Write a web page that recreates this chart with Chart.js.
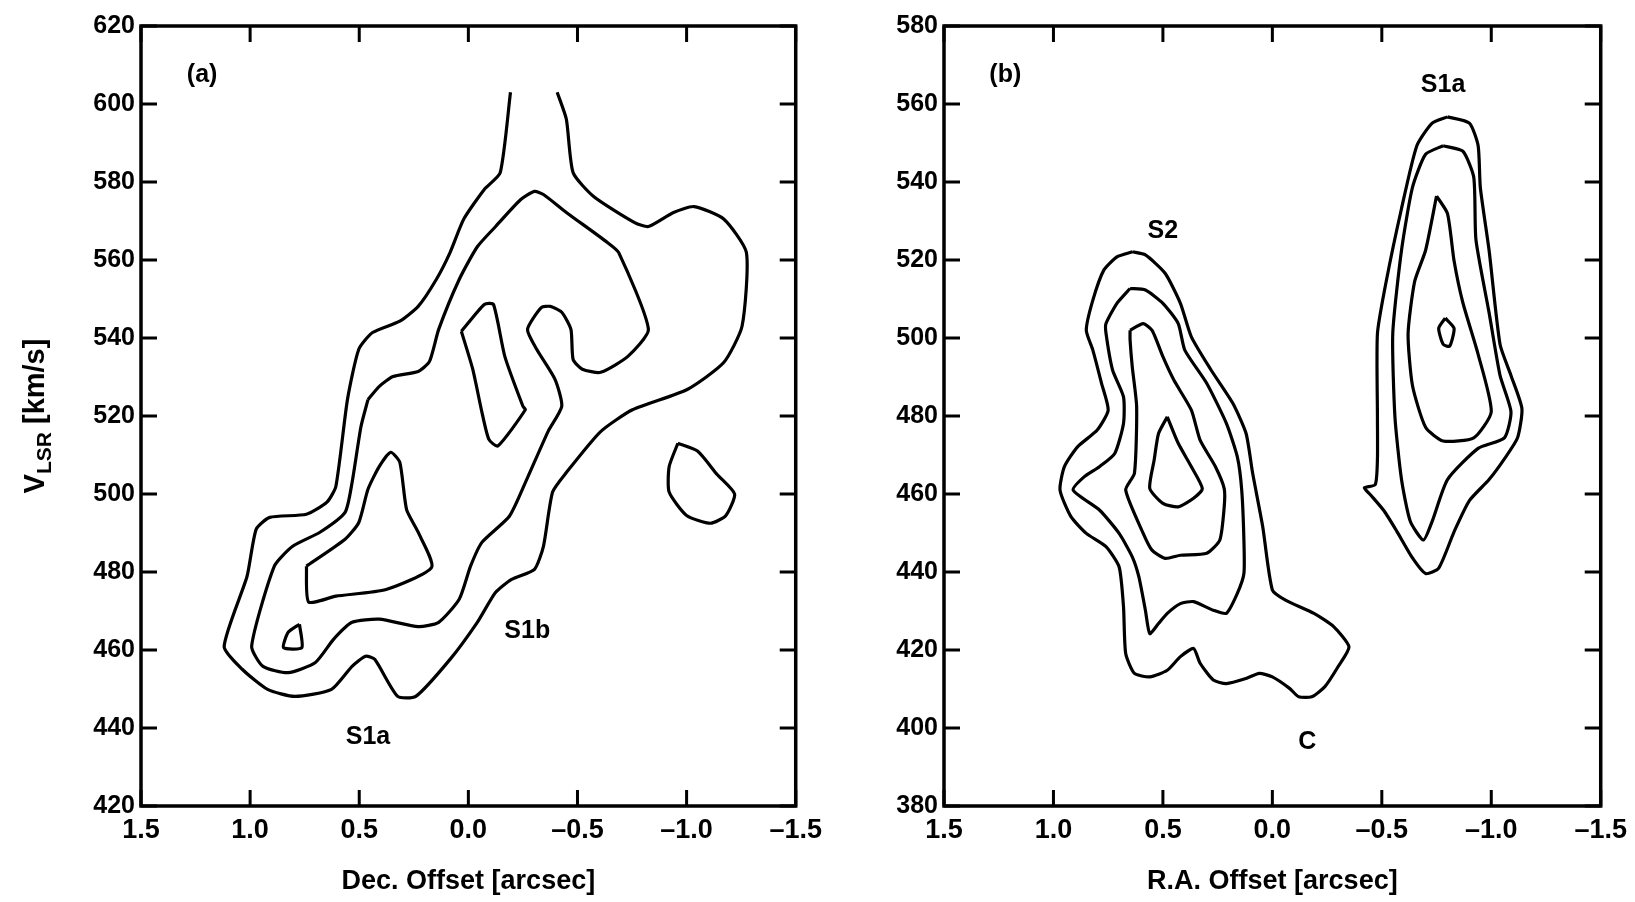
<!DOCTYPE html>
<html><head><meta charset="utf-8">
<script src="https://cdn.jsdelivr.net/npm/chart.js@4.4.0/dist/chart.umd.min.js"></script>
<style>
html,body{margin:0;padding:0;background:#fff;}
#wa{position:absolute;left:0;top:0;width:830px;height:902px;}
#wb{position:absolute;left:830px;top:0;width:805px;height:902px;}
</style></head><body>
<div id="wa"><canvas id="ca"></canvas></div>
<div id="wb"><canvas id="cb"></canvas></div>
<script>
// ---- Panel (a): Dec. offset vs V_LSR contours ----
const xTicksA = [1.5, 1.0, 0.5, 0.0, -0.5, -1.0, -1.5];
const yTicksA = [420, 440, 460, 480, 500, 520, 540, 560, 580, 600, 620];
const a_outer = [[-0.193,603.0],[-0.146,582.4],[-0.073,578.1],[0.021,570.5],[0.084,561.9],[0.147,555.0],[0.230,548.1],[0.314,544.3],[0.439,541.4],[0.502,537.1],[0.554,524.2],[0.607,502.0],[0.648,497.9],[0.742,494.8],[0.910,494.0],[0.972,491.0],[1.014,478.9],[1.119,460.9],[1.035,455.0],[0.920,449.9],[0.795,448.1],[0.627,449.9],[0.533,455.8],[0.471,458.4],[0.429,457.6],[0.324,448.1],[0.241,448.1],[0.084,457.6],[-0.041,467.1],[-0.125,474.8],[-0.198,478.1],[-0.303,480.7],[-0.344,486.6],[-0.386,500.5],[-0.449,505.5],[-0.606,516.0],[-0.752,521.6],[-1.003,526.8],[-1.170,533.7],[-1.254,543.0],[-1.274,561.9],[-1.170,570.5],[-1.034,573.7],[-0.940,572.2],[-0.825,568.6],[-0.762,569.6],[-0.574,576.3],[-0.480,582.4],[-0.449,596.1],[-0.407,603.0]];
const a_mid = [[0.460,524.2],[0.408,527.6],[0.345,530.1],[0.230,531.4],[0.178,534.0],[0.136,542.2],[0.042,555.0],[-0.041,563.4],[-0.125,568.6],[-0.240,575.5],[-0.303,577.6],[-0.344,576.8],[-0.449,572.2],[-0.637,564.5],[-0.689,561.9],[-0.825,542.2],[-0.731,535.3],[-0.606,531.2],[-0.522,532.0],[-0.480,534.5],[-0.470,542.2],[-0.428,546.6],[-0.376,548.1],[-0.334,547.8],[-0.271,542.2],[-0.313,537.1],[-0.397,529.4],[-0.428,522.5],[-0.365,516.0],[-0.261,502.9],[-0.188,494.3],[-0.062,487.6],[-0.010,481.5],[0.042,473.0],[0.136,467.1],[0.230,466.0],[0.408,467.9],[0.533,467.1],[0.617,462.8],[0.701,456.8],[0.826,454.2],[0.941,455.8],[0.993,461.0],[0.889,481.5],[0.805,486.6],[0.680,490.2],[0.565,495.3],[0.533,502.9],[0.492,517.3],[0.460,524.2]];
const a_s1a = [[0.742,481.5],[0.732,472.3],[0.607,473.8],[0.377,475.5],[0.168,481.2],[0.230,490.2],[0.283,496.0],[0.314,508.1],[0.356,510.7],[0.408,507.1],[0.460,501.2],[0.502,492.7],[0.565,488.4],[0.742,481.5]];
const a_tiny = [[0.774,466.6],[0.763,460.6],[0.847,460.6],[0.826,464.5],[0.774,466.6]];
const a_s1b = [[0.032,541.7],[-0.073,548.6],[-0.115,548.6],[-0.167,535.3],[-0.250,522.5],[-0.261,521.6],[-0.135,512.3],[-0.094,514.0],[-0.062,521.0],[-0.020,532.0],[0.032,541.7]];
const a_blob = [[-0.96,513],[-1.05,511],[-1.14,505],[-1.22,500],[-1.18,494.5],[-1.11,492.5],[-1.0,494.5],[-0.92,500.5],[-0.92,507],[-0.96,513]];
const labelsA = [["(a)",1.22,607.4],["S1b",-0.27,464.9],["S1a",0.46,437.6]];

// ---- Panel (b): R.A. offset vs V_LSR contours ----
const xTicksB = [1.5, 1.0, 0.5, 0.0, -0.5, -1.0, -1.5];
const yTicksB = [380, 400, 420, 440, 460, 480, 500, 520, 540, 560, 580];
const b_s2_1 = [[0.64,522.1],[0.58,521.3],[0.49,516.6],[0.42,508.9],[0.37,500.3],[0.28,491.8],[0.18,483.2],[0.12,475.5],[0.09,465.3],[0.044,451.6],[0.0,435.4],[-0.06,432.8],[-0.19,429.4],[-0.28,426.0],[-0.35,420.8],[-0.30,415.7],[-0.24,410.6],[-0.18,408.0],[-0.12,408.0],[-0.08,410.1],[0.0,413.1],[0.06,414.0],[0.12,412.7],[0.21,411.4],[0.27,412.3],[0.33,416.6],[0.36,420.4],[0.42,418.3],[0.48,414.8],[0.56,413.1],[0.63,414.0],[0.67,419.1],[0.68,431.1],[0.70,441.3],[0.76,446.5],[0.85,449.9],[0.92,454.2],[0.97,461.0],[0.95,467.0],[0.89,472.1],[0.80,476.4],[0.75,481.5],[0.78,488.3],[0.82,496.9],[0.85,502.0],[0.82,509.7],[0.77,517.4],[0.71,520.8],[0.64,522.1]];
const b_s2_2 = [[0.65,512.7],[0.58,512.3],[0.50,508.9],[0.43,503.7],[0.40,496.9],[0.30,488.4],[0.21,478.1],[0.16,469.5],[0.14,461.0],[0.13,448.2],[0.13,439.6],[0.16,434.5],[0.21,429.4],[0.27,430.2],[0.36,432.4],[0.42,431.9],[0.48,429.4],[0.52,426.8],[0.56,424.2],[0.58,430.2],[0.61,438.8],[0.64,443.9],[0.70,449.9],[0.79,455.9],[0.91,461.0],[0.86,464.4],[0.79,467.0],[0.72,470.4],[0.68,478.1],[0.68,484.9],[0.73,491.8],[0.76,501.2],[0.76,503.7],[0.71,508.9],[0.65,512.7]];
const b_s2_3 = [[0.65,502.0],[0.59,503.7],[0.55,502.0],[0.53,499.5],[0.50,495.2],[0.45,489.2],[0.37,481.5],[0.33,473.8],[0.26,467.0],[0.22,461.4],[0.22,456.7],[0.24,448.2],[0.30,444.8],[0.42,444.3],[0.49,443.5],[0.55,445.6],[0.59,449.9],[0.67,461.0],[0.63,465.3],[0.62,482.4],[0.64,492.6],[0.65,499.5],[0.65,502.0]];
const b_s2_4 = [[0.48,479.8],[0.43,473.0],[0.37,467.0],[0.32,461.4],[0.36,458.9],[0.43,456.7],[0.50,457.6],[0.56,461.4],[0.54,468.7],[0.52,475.5],[0.48,479.8]];
const b_s1_1 = [[-0.80,556.7],[-0.90,555.1],[-0.94,549.3],[-0.95,538.6],[-0.99,522.5],[-1.04,498.4],[-1.09,490.4],[-1.14,481.9],[-1.12,474.4],[-1.06,469],[-0.99,463.7],[-0.90,458.3],[-0.83,450.3],[-0.76,441],[-0.70,439.6],[-0.64,443.6],[-0.57,450.3],[-0.51,455.7],[-0.45,459.7],[-0.42,461.6],[-0.47,462.4],[-0.48,469],[-0.48,479.7],[-0.48,501.1],[-0.52,514.5],[-0.59,533.2],[-0.66,549.3],[-0.73,555.1],[-0.80,556.7]];
const b_s1_2 = [[-0.78,549.3],[-0.87,547.9],[-0.92,541.2],[-0.93,525.2],[-0.99,506.5],[-1.04,490.4],[-1.09,481.1],[-1.06,474.4],[-0.94,471.7],[-0.80,463.7],[-0.73,453],[-0.69,448.2],[-0.63,453],[-0.59,463.7],[-0.56,479.7],[-0.55,501.1],[-0.59,522.5],[-0.64,538.6],[-0.70,547.1],[-0.78,549.3]];
const b_s1_3 = [[-0.75,536.4],[-0.80,531.9],[-0.83,519.8],[-0.87,509.1],[-0.94,495.8],[-1.00,481.1],[-0.92,474.4],[-0.78,473.6],[-0.70,477.1],[-0.64,487.8],[-0.62,501.1],[-0.65,514.5],[-0.70,522.5],[-0.75,536.4]];
const b_s1_4 = [[-0.79,505.1],[-0.83,502.5],[-0.81,497.9],[-0.78,498.4],[-0.76,502.5],[-0.79,505.1]];
const labelsB = [["(b)",1.22,567.4],["S2",0.50,527.3],["S1a",-0.78,564.8],["C",-0.16,396.3]];

const FONT = "'Liberation Sans', Arial, sans-serif";
function ds(arr){
  return {data: arr.map(p=>({x:p[0],y:p[1]})), borderColor:'#000', borderWidth:3.2,
    pointRadius:0, showLine:true, fill:false, tension:0.2, parsing:false};
}
const framePlugin = {
  id:'frame',
  afterDraw(chart, args, opts){
    const {ctx, chartArea:ca, scales:{x,y}} = chart;
    ctx.save();
    ctx.strokeStyle='#000'; ctx.lineWidth=3.5;
    ctx.strokeRect(ca.left, ca.top, ca.right-ca.left, ca.bottom-ca.top);
    ctx.lineWidth=3;
    const L=16;
    opts.xt.forEach(v=>{const px=x.getPixelForValue(v);
      ctx.beginPath();ctx.moveTo(px,ca.bottom);ctx.lineTo(px,ca.bottom-L);
      ctx.moveTo(px,ca.top);ctx.lineTo(px,ca.top+L);ctx.stroke();});
    opts.yt.forEach(v=>{const py=y.getPixelForValue(v);
      ctx.beginPath();ctx.moveTo(ca.left,py);ctx.lineTo(ca.left+L,py);
      ctx.moveTo(ca.right,py);ctx.lineTo(ca.right-L,py);ctx.stroke();});
    ctx.fillStyle='#000'; ctx.font='bold 25px '+FONT; ctx.textAlign='center'; ctx.textBaseline='middle';
    opts.labels.forEach(l=>ctx.fillText(l[0], x.getPixelForValue(l[1]), y.getPixelForValue(l[2])));
    if(opts.ytitle){
      ctx.translate(36,(ca.top+ca.bottom)/2); ctx.rotate(-Math.PI/2);
      ctx.textAlign='left'; ctx.textBaseline='middle';
      const t1='V', t2='LSR', t3=' [km/s]';
      ctx.font='bold 29px '+FONT; const w1=ctx.measureText(t1).width;
      ctx.font='bold 21px '+FONT; const w2=ctx.measureText(t2).width;
      ctx.font='bold 29px '+FONT; const w3=ctx.measureText(t3).width;
      let s=-(w1+w2+w3)/2;
      ctx.fillText(t1,s,0); s+=w1;
      ctx.font='bold 21px '+FONT; ctx.fillText(t2,s,9); s+=w2;
      ctx.font='bold 29px '+FONT; ctx.fillText(t3,s,0);
    }
    ctx.restore();
  }
};
function make(id, sets, xt, yt, ymin, ymax, xtitle, labels, yw, padR, ytitle){
  return new Chart(document.getElementById(id), {
    type:'scatter',
    data:{datasets:sets.map(ds)},
    options:{
      responsive:true, maintainAspectRatio:false, animation:false,
      layout:{padding:{top:26,right:padR,left:0,bottom:0}},
      plugins:{legend:{display:false},tooltip:{enabled:false},
        frame:{xt:xt,yt:yt,labels:labels,ytitle:ytitle}},
      scales:{
        x:{type:'linear',min:-1.5,max:1.5,reverse:true,
          afterBuildTicks:s=>{s.ticks=xt.map(v=>({value:v}));},
          afterFit:s=>{s.height=96;},
          grid:{display:false,drawTicks:false}, border:{display:false},
          ticks:{color:'#000',font:{family:FONT,weight:'bold',size:27},padding:8,maxRotation:0,
            callback:v=>(v<0?'\u2013':'')+Math.abs(v).toFixed(1)},
          title:{display:true,text:xtitle,color:'#000',font:{family:FONT,weight:'bold',size:27},padding:{top:2}}},
        y:{type:'linear',min:ymin,max:ymax,
          afterBuildTicks:s=>{s.ticks=yt.map(v=>({value:v}));},
          afterFit:s=>{s.width=yw;},
          grid:{display:false,drawTicks:false}, border:{display:false},
          ticks:{color:'#000',font:{family:FONT,weight:'bold',size:25},padding:6}}
      }
    },
    plugins:[framePlugin]
  });
}
make('ca',[a_outer,a_mid,a_s1a,a_tiny,a_s1b,a_blob],xTicksA,yTicksA,420,620,'Dec. Offset [arcsec]',labelsA,141,11,true);
make('cb',[b_s2_1,b_s2_2,b_s2_3,b_s2_4,b_s1_1,b_s1_2,b_s1_3,b_s1_4],xTicksB,yTicksB,380,580,'R.A. Offset [arcsec]',labelsB,114,18,false);
</script></body></html>
